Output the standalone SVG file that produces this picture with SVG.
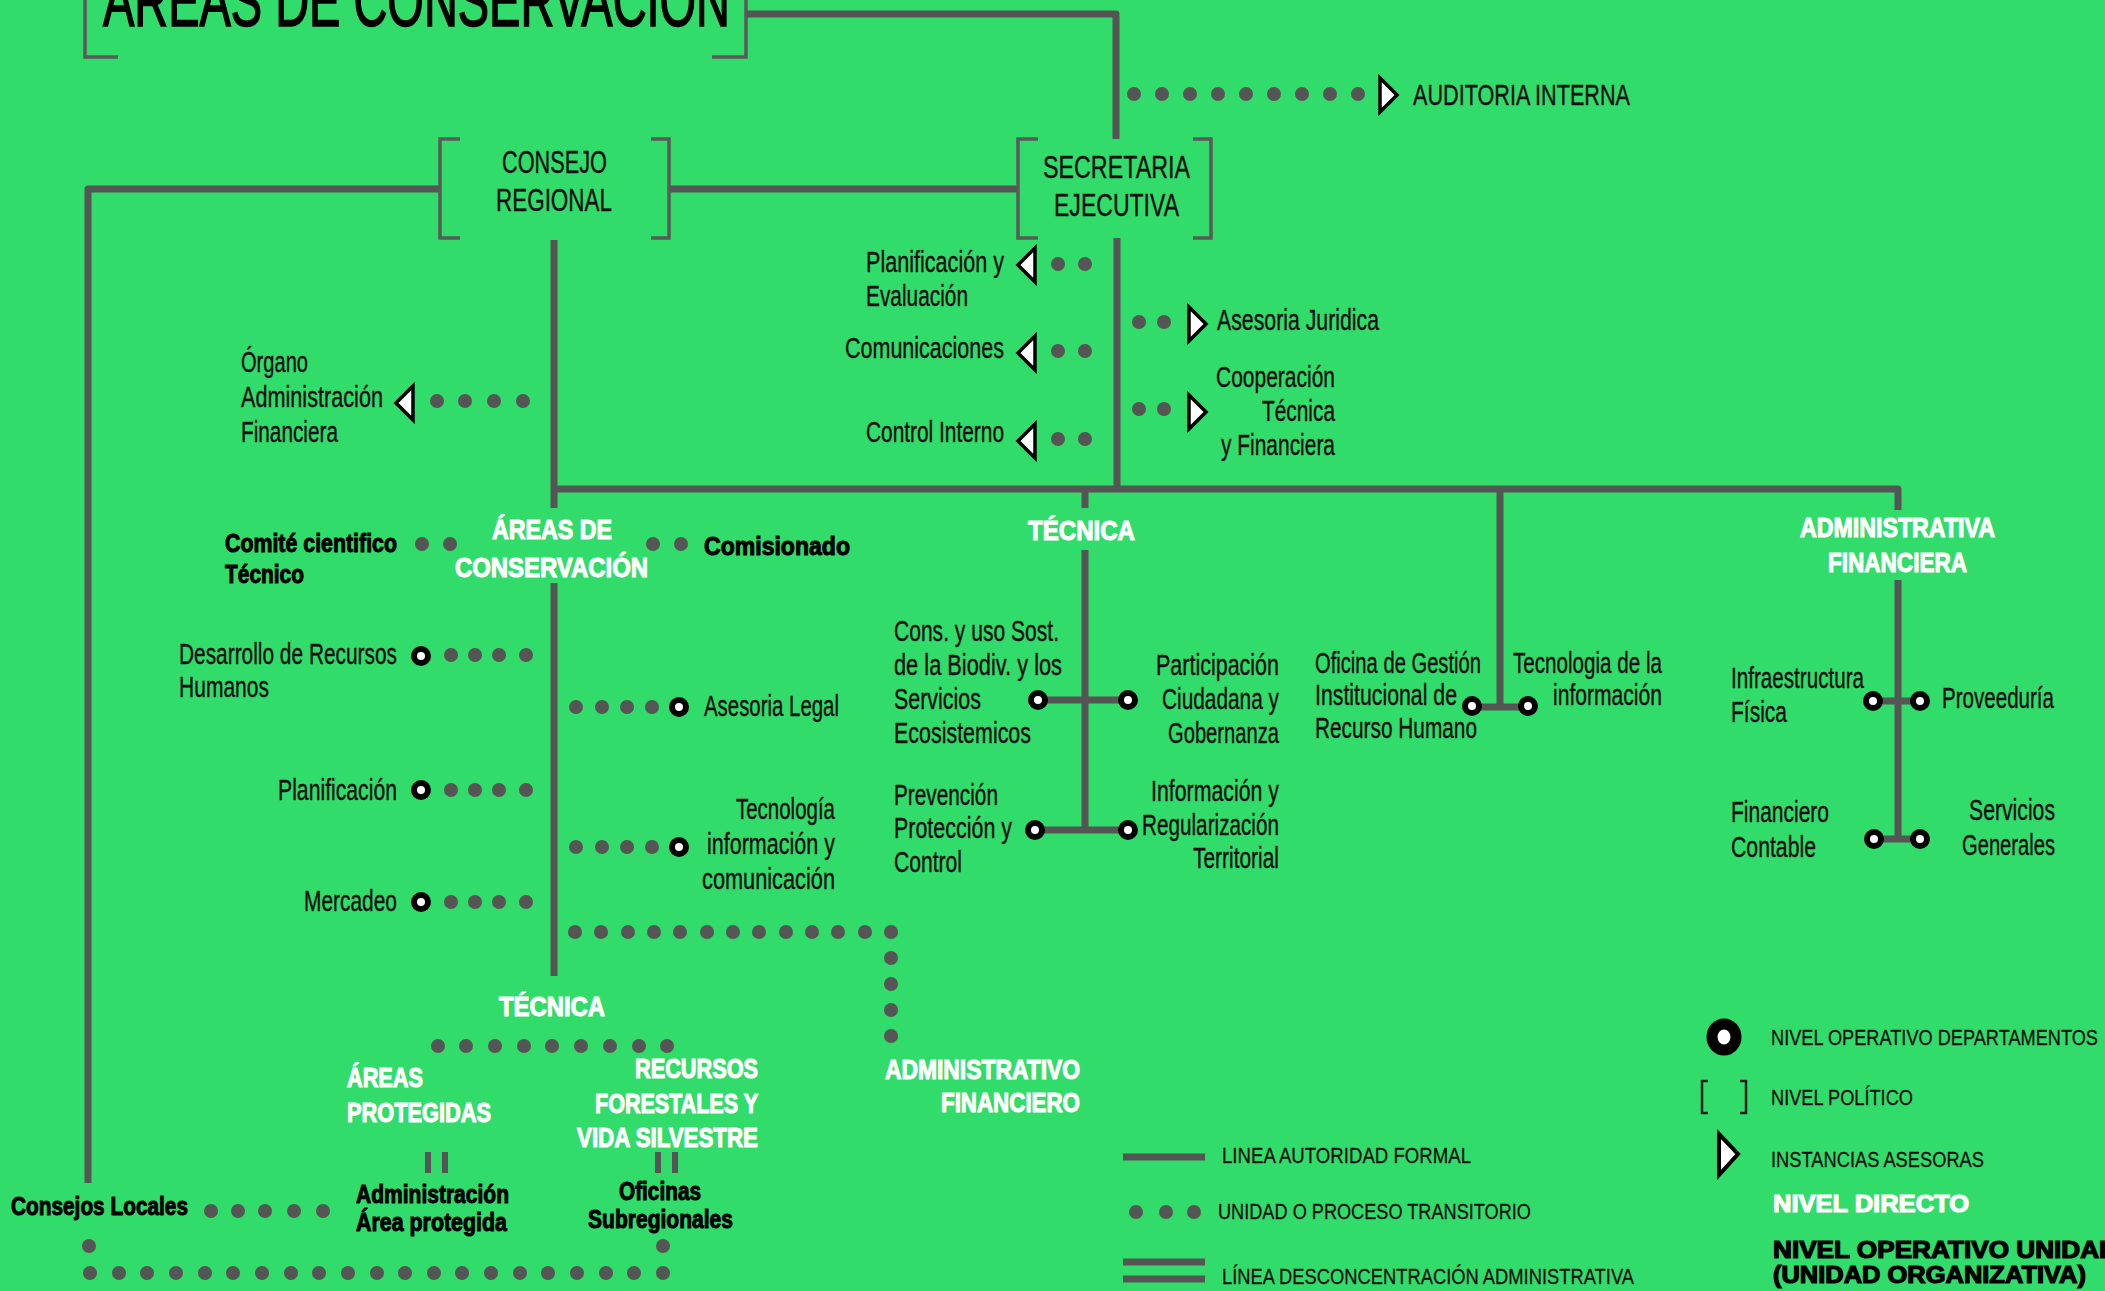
<svg xmlns="http://www.w3.org/2000/svg" xmlns:xlink="http://www.w3.org/1999/xlink" width="2105" height="1291" viewBox="0 0 2105 1291">
<style>
text{font-family:"Liberation Sans",Arial,sans-serif;}
.n{font-size:29px;fill:#111;stroke:#111;stroke-width:0.4;}
.p{font-size:31px;fill:#111;stroke:#111;stroke-width:0.4;}
.w{font-size:27px;font-weight:bold;fill:#fff;stroke:#fff;stroke-width:1.1;}
.k{font-size:26px;font-weight:bold;fill:#000;stroke:#000;stroke-width:1;}
.lg{font-size:22px;fill:#111;stroke:#111;stroke-width:0.3;}
.br{fill:none;stroke:#5a5a5a;stroke-width:3.5;}
</style>
<defs>
<circle id="dt" r="7" fill="#555"/>
<circle id="rg" r="7" fill="#fff" stroke="#000" stroke-width="6"/>
<polygon id="trR" points="-8,-17 9,0 -8,17" fill="#fff" stroke="#000" stroke-width="3.5"/>
<polygon id="trL" points="8,-17 -9,0 8,17" fill="#fff" stroke="#000" stroke-width="3.5"/>
</defs>
<rect x="0" y="0" width="2105" height="1291" fill="#32dc6a"/>

<g id="connectors" fill="none" stroke="#555" stroke-width="7" stroke-linejoin="round">
<path d="M746,14 H1116 V139"/>
<path d="M88,1183 V189 H440"/>
<path d="M669,189 H1018"/>
<path d="M1117,238 V489"/>
<path d="M554,240 V508"/>
<path d="M554,583 V976"/>
<path d="M554,489 H1898 V510"/>
<path d="M1085,489 V508"/>
<path d="M1085,550 V830"/>
<path d="M1038,700 H1128"/>
<path d="M1035,830 H1128"/>
<path d="M1500,489 V707"/>
<path d="M1472,707 H1528"/>
<path d="M1898,580 V839"/>
<path d="M1873,701 H1920"/>
<path d="M1874,839 H1920"/>
<g stroke-width="6">
<path d="M428,1152 V1173 M445,1152 V1173"/>
<path d="M658,1152 V1173 M675,1152 V1173"/>
</g>
<g id="dots" stroke="none">
<use href="#dt" x="1134" y="94"/><use href="#dt" x="1162" y="94"/><use href="#dt" x="1190" y="94"/><use href="#dt" x="1218" y="94"/><use href="#dt" x="1246" y="94"/><use href="#dt" x="1274" y="94"/><use href="#dt" x="1302" y="94"/><use href="#dt" x="1330" y="94"/><use href="#dt" x="1358" y="94"/>
<use href="#dt" x="1058" y="264"/><use href="#dt" x="1085" y="264"/>
<use href="#dt" x="1058" y="351"/><use href="#dt" x="1085" y="351"/>
<use href="#dt" x="1058" y="439"/><use href="#dt" x="1085" y="439"/>
<use href="#dt" x="1139" y="322"/><use href="#dt" x="1164" y="322"/>
<use href="#dt" x="1139" y="409"/><use href="#dt" x="1164" y="409"/>
<use href="#dt" x="437" y="401"/><use href="#dt" x="465" y="401"/><use href="#dt" x="494" y="401"/><use href="#dt" x="523" y="401"/>
<use href="#dt" x="422" y="544"/><use href="#dt" x="450" y="544"/>
<use href="#dt" x="653" y="544"/><use href="#dt" x="681" y="544"/>
<use href="#dt" x="451" y="655"/><use href="#dt" x="475" y="655"/><use href="#dt" x="499" y="655"/><use href="#dt" x="526" y="655"/>
<use href="#dt" x="451" y="790"/><use href="#dt" x="475" y="790"/><use href="#dt" x="499" y="790"/><use href="#dt" x="526" y="790"/>
<use href="#dt" x="451" y="902"/><use href="#dt" x="475" y="902"/><use href="#dt" x="499" y="902"/><use href="#dt" x="526" y="902"/>
<use href="#dt" x="576" y="707"/><use href="#dt" x="602" y="707"/><use href="#dt" x="627" y="707"/><use href="#dt" x="652" y="707"/>
<use href="#dt" x="576" y="847"/><use href="#dt" x="602" y="847"/><use href="#dt" x="627" y="847"/><use href="#dt" x="652" y="847"/>
<use href="#dt" x="575" y="932"/><use href="#dt" x="601" y="932"/><use href="#dt" x="628" y="932"/><use href="#dt" x="654" y="932"/><use href="#dt" x="680" y="932"/><use href="#dt" x="707" y="932"/><use href="#dt" x="733" y="932"/><use href="#dt" x="759" y="932"/><use href="#dt" x="786" y="932"/><use href="#dt" x="812" y="932"/><use href="#dt" x="838" y="932"/><use href="#dt" x="865" y="932"/><use href="#dt" x="891" y="932"/>
<use href="#dt" x="891" y="958"/><use href="#dt" x="891" y="984"/><use href="#dt" x="891" y="1010"/><use href="#dt" x="891" y="1036"/>
<use href="#dt" x="438" y="1046"/><use href="#dt" x="466" y="1046"/><use href="#dt" x="495" y="1046"/><use href="#dt" x="524" y="1046"/><use href="#dt" x="552" y="1046"/><use href="#dt" x="581" y="1046"/><use href="#dt" x="610" y="1046"/><use href="#dt" x="639" y="1046"/><use href="#dt" x="667" y="1046"/>
<use href="#dt" x="211" y="1211"/><use href="#dt" x="238" y="1211"/><use href="#dt" x="265" y="1211"/><use href="#dt" x="294" y="1211"/><use href="#dt" x="323" y="1211"/>
<use href="#dt" x="89" y="1246"/><use href="#dt" x="663" y="1246"/>
<use href="#dt" x="90" y="1273"/><use href="#dt" x="119" y="1273"/><use href="#dt" x="147" y="1273"/><use href="#dt" x="176" y="1273"/><use href="#dt" x="205" y="1273"/><use href="#dt" x="233" y="1273"/><use href="#dt" x="262" y="1273"/><use href="#dt" x="291" y="1273"/><use href="#dt" x="319" y="1273"/><use href="#dt" x="348" y="1273"/><use href="#dt" x="377" y="1273"/><use href="#dt" x="405" y="1273"/><use href="#dt" x="434" y="1273"/><use href="#dt" x="462" y="1273"/><use href="#dt" x="491" y="1273"/><use href="#dt" x="520" y="1273"/><use href="#dt" x="548" y="1273"/><use href="#dt" x="577" y="1273"/><use href="#dt" x="606" y="1273"/><use href="#dt" x="634" y="1273"/><use href="#dt" x="663" y="1273"/>
</g>
</g>

<g id="title">
<path class="br" stroke-width="5" d="M85,-5 V57 H118 M712,57 H746 V-5"/>
<text x="103" y="26" font-size="72" fill="#000" stroke="#000" stroke-width="1.6" textLength="627" lengthAdjust="spacingAndGlyphs">ÁREAS DE CONSERVACIÓN</text>
</g>
<g id="consejo-regional">
<path class="br" d="M460,139 H440 V238 H460 M651,139 H669 V238 H651"/>
<text class="p" x="502" y="173" textLength="105" lengthAdjust="spacingAndGlyphs">CONSEJO</text>
<text class="p" x="496" y="211" textLength="116" lengthAdjust="spacingAndGlyphs">REGIONAL</text>
</g>
<g id="secretaria-ejecutiva">
<path class="br" d="M1038,139 H1018 V238 H1038 M1193,139 H1211 V238 H1193"/>
<text class="p" x="1043" y="178" textLength="147" lengthAdjust="spacingAndGlyphs">SECRETARIA</text>
<text class="p" x="1054" y="216" textLength="125" lengthAdjust="spacingAndGlyphs">EJECUTIVA</text>
</g>
<g id="auditoria-interna">
<use href="#trR" x="1388" y="95"/>
<text class="n" x="1413" y="105" textLength="217" lengthAdjust="spacingAndGlyphs">AUDITORIA INTERNA</text>
</g>
<g id="planificacion-evaluacion">
<use href="#trL" x="1027" y="265"/>
<text class="n" x="866" y="272" textLength="138" lengthAdjust="spacingAndGlyphs">Planificación y</text>
<text class="n" x="866" y="306" textLength="102" lengthAdjust="spacingAndGlyphs">Evaluación</text>
</g>
<g id="comunicaciones">
<use href="#trL" x="1027" y="353"/>
<text class="n" x="845" y="358" textLength="159" lengthAdjust="spacingAndGlyphs">Comunicaciones</text>
</g>
<g id="control-interno">
<use href="#trL" x="1027" y="441"/>
<text class="n" x="866" y="442" textLength="138" lengthAdjust="spacingAndGlyphs">Control Interno</text>
</g>
<g id="asesoria-juridica">
<use href="#trR" x="1197" y="324"/>
<text class="n" x="1217" y="330" textLength="162" lengthAdjust="spacingAndGlyphs">Asesoria Juridica</text>
</g>
<g id="cooperacion">
<use href="#trR" x="1197" y="412"/>
<text class="n" x="1216" y="387" textLength="119" lengthAdjust="spacingAndGlyphs">Cooperación</text>
<text class="n" x="1262" y="421" textLength="73" lengthAdjust="spacingAndGlyphs">Técnica</text>
<text class="n" x="1221" y="455" textLength="114" lengthAdjust="spacingAndGlyphs">y Financiera</text>
</g>
<g id="organo-admin">
<use href="#trL" x="405" y="403"/>
<text class="n" x="241" y="372" textLength="67" lengthAdjust="spacingAndGlyphs">Órgano</text>
<text class="n" x="241" y="407" textLength="142" lengthAdjust="spacingAndGlyphs">Administración</text>
<text class="n" x="241" y="442" textLength="97" lengthAdjust="spacingAndGlyphs">Financiera</text>
</g>
<g id="areas-conservacion">
<text class="w" x="492" y="539" textLength="120" lengthAdjust="spacingAndGlyphs">ÁREAS DE</text>
<text class="w" x="455" y="577" textLength="193" lengthAdjust="spacingAndGlyphs">CONSERVACIÓN</text>
</g>
<g id="comite">
<text class="k" x="225" y="552" textLength="172" lengthAdjust="spacingAndGlyphs">Comité cientifico</text>
<text class="k" x="225" y="583" textLength="79" lengthAdjust="spacingAndGlyphs">Técnico</text>
</g>
<g id="comisionado">
<text class="k" x="704" y="555" textLength="146" lengthAdjust="spacingAndGlyphs">Comisionado</text>
</g>
<g id="tecnica-sup">
<text class="w" x="1028" y="540" textLength="107" lengthAdjust="spacingAndGlyphs">TÉCNICA</text>
</g>
<g id="admin-fin">
<text class="w" x="1800" y="537" textLength="195" lengthAdjust="spacingAndGlyphs">ADMINISTRATIVA</text>
<text class="w" x="1828" y="572" textLength="139" lengthAdjust="spacingAndGlyphs">FINANCIERA</text>
</g>
<g id="desarrollo-rrhh">
<use href="#rg" x="421" y="656"/>
<text class="n" x="179" y="664" textLength="218" lengthAdjust="spacingAndGlyphs">Desarrollo de Recursos</text>
<text class="n" x="179" y="697" textLength="90" lengthAdjust="spacingAndGlyphs">Humanos</text>
</g>
<g id="planificacion">
<use href="#rg" x="421" y="790"/>
<text class="n" x="278" y="800" textLength="119" lengthAdjust="spacingAndGlyphs">Planificación</text>
</g>
<g id="mercadeo">
<use href="#rg" x="421" y="902"/>
<text class="n" x="304" y="911" textLength="93" lengthAdjust="spacingAndGlyphs">Mercadeo</text>
</g>
<g id="asesoria-legal">
<use href="#rg" x="679" y="707"/>
<text class="n" x="704" y="716" textLength="135" lengthAdjust="spacingAndGlyphs">Asesoria Legal</text>
</g>
<g id="tic">
<use href="#rg" x="679" y="847"/>
<text class="n" x="736" y="819" textLength="99" lengthAdjust="spacingAndGlyphs">Tecnología</text>
<text class="n" x="707" y="854" textLength="128" lengthAdjust="spacingAndGlyphs">información y</text>
<text class="n" x="702" y="889" textLength="133" lengthAdjust="spacingAndGlyphs">comunicación</text>
</g>
<g id="biodiversidad">
<use href="#rg" x="1038" y="700"/>
<text class="n" x="894" y="641" textLength="165" lengthAdjust="spacingAndGlyphs">Cons. y uso Sost.</text>
<text class="n" x="894" y="675" textLength="168" lengthAdjust="spacingAndGlyphs">de la Biodiv. y los</text>
<text class="n" x="894" y="709" textLength="87" lengthAdjust="spacingAndGlyphs">Servicios</text>
<text class="n" x="894" y="743" textLength="137" lengthAdjust="spacingAndGlyphs">Ecosistemicos</text>
</g>
<g id="participacion">
<use href="#rg" x="1128" y="700"/>
<text class="n" x="1156" y="675" textLength="123" lengthAdjust="spacingAndGlyphs">Participación</text>
<text class="n" x="1162" y="709" textLength="117" lengthAdjust="spacingAndGlyphs">Ciudadana y</text>
<text class="n" x="1168" y="743" textLength="111" lengthAdjust="spacingAndGlyphs">Gobernanza</text>
</g>
<g id="prevencion">
<use href="#rg" x="1035" y="830"/>
<text class="n" x="894" y="805" textLength="104" lengthAdjust="spacingAndGlyphs">Prevención</text>
<text class="n" x="894" y="838" textLength="118" lengthAdjust="spacingAndGlyphs">Protección y</text>
<text class="n" x="894" y="872" textLength="68" lengthAdjust="spacingAndGlyphs">Control</text>
</g>
<g id="informacion-regularizacion">
<use href="#rg" x="1128" y="830"/>
<text class="n" x="1151" y="801" textLength="128" lengthAdjust="spacingAndGlyphs">Información y</text>
<text class="n" x="1142" y="835" textLength="137" lengthAdjust="spacingAndGlyphs">Regularización</text>
<text class="n" x="1193" y="868" textLength="86" lengthAdjust="spacingAndGlyphs">Territorial</text>
</g>
<g id="oficina-rrhh">
<use href="#rg" x="1472" y="706"/>
<text class="n" x="1315" y="673" textLength="166" lengthAdjust="spacingAndGlyphs">Oficina de Gestión</text>
<text class="n" x="1315" y="705" textLength="142" lengthAdjust="spacingAndGlyphs">Institucional de</text>
<text class="n" x="1315" y="738" textLength="162" lengthAdjust="spacingAndGlyphs">Recurso Humano</text>
</g>
<g id="tecnologia-informacion">
<use href="#rg" x="1528" y="706"/>
<text class="n" x="1513" y="673" textLength="149" lengthAdjust="spacingAndGlyphs">Tecnologia de la</text>
<text class="n" x="1553" y="705" textLength="109" lengthAdjust="spacingAndGlyphs">información</text>
</g>
<g id="infraestructura">
<use href="#rg" x="1873" y="701"/>
<text class="n" x="1731" y="688" textLength="133" lengthAdjust="spacingAndGlyphs">Infraestructura</text>
<text class="n" x="1731" y="722" textLength="56" lengthAdjust="spacingAndGlyphs">Física</text>
</g>
<g id="proveeduria">
<use href="#rg" x="1920" y="701"/>
<text class="n" x="1942" y="708" textLength="112" lengthAdjust="spacingAndGlyphs">Proveeduría</text>
</g>
<g id="financiero-contable">
<use href="#rg" x="1874" y="839"/>
<text class="n" x="1731" y="822" textLength="98" lengthAdjust="spacingAndGlyphs">Financiero</text>
<text class="n" x="1731" y="857" textLength="85" lengthAdjust="spacingAndGlyphs">Contable</text>
</g>
<g id="servicios-generales">
<use href="#rg" x="1920" y="839"/>
<text class="n" x="1969" y="820" textLength="86" lengthAdjust="spacingAndGlyphs">Servicios</text>
<text class="n" x="1962" y="855" textLength="93" lengthAdjust="spacingAndGlyphs">Generales</text>
</g>
<g id="admin-financiero">
<text class="w" x="885" y="1079" textLength="195" lengthAdjust="spacingAndGlyphs">ADMINISTRATIVO</text>
<text class="w" x="941" y="1112" textLength="139" lengthAdjust="spacingAndGlyphs">FINANCIERO</text>
</g>
<g id="tecnica-inf">
<text class="w" x="499" y="1016" textLength="106" lengthAdjust="spacingAndGlyphs">TÉCNICA</text>
</g>
<g id="areas-protegidas">
<text class="w" x="347" y="1087" textLength="76" lengthAdjust="spacingAndGlyphs">ÁREAS</text>
<text class="w" x="347" y="1122" textLength="144" lengthAdjust="spacingAndGlyphs">PROTEGIDAS</text>
</g>
<g id="recursos-forestales">
<text class="w" x="635" y="1078" textLength="123" lengthAdjust="spacingAndGlyphs">RECURSOS</text>
<text class="w" x="595" y="1113" textLength="163" lengthAdjust="spacingAndGlyphs">FORESTALES Y</text>
<text class="w" x="577" y="1147" textLength="181" lengthAdjust="spacingAndGlyphs">VIDA SILVESTRE</text>
</g>
<g id="admin-area-protegida">
<text class="k" x="356" y="1203" textLength="153" lengthAdjust="spacingAndGlyphs">Administración</text>
<text class="k" x="356" y="1231" textLength="151" lengthAdjust="spacingAndGlyphs">Área protegida</text>
</g>
<g id="oficinas-subregionales">
<text class="k" x="619" y="1200" textLength="82" lengthAdjust="spacingAndGlyphs">Oficinas</text>
<text class="k" x="588" y="1228" textLength="145" lengthAdjust="spacingAndGlyphs">Subregionales</text>
</g>
<g id="consejos-locales">
<text class="k" x="11" y="1215" textLength="177" lengthAdjust="spacingAndGlyphs">Consejos Locales</text>
</g>

<g id="legend">
<path d="M1123,1157 H1205" stroke="#555" stroke-width="7"/>
<use href="#dt" x="1136" y="1212"/><use href="#dt" x="1166" y="1212"/><use href="#dt" x="1194" y="1212"/>
<path d="M1123,1262 H1205 M1123,1279 H1205" stroke="#555" stroke-width="7"/>
<text class="lg" x="1222" y="1163" textLength="249" lengthAdjust="spacingAndGlyphs">LINEA AUTORIDAD FORMAL</text>
<text class="lg" x="1218" y="1219" textLength="313" lengthAdjust="spacingAndGlyphs">UNIDAD O PROCESO TRANSITORIO</text>
<text class="lg" x="1222" y="1284" textLength="412" lengthAdjust="spacingAndGlyphs">LÍNEA DESCONCENTRACIÓN ADMINISTRATIVA</text>
<ellipse cx="1724" cy="1037" rx="12" ry="13" fill="#fff" stroke="#000" stroke-width="11"/>
<text class="lg" x="1771" y="1045" textLength="327" lengthAdjust="spacingAndGlyphs">NIVEL OPERATIVO DEPARTAMENTOS</text>
<path d="M1708,1081 H1702 V1113 H1708 M1740,1081 H1746 V1113 H1740" fill="none" stroke="#222" stroke-width="2.5"/>
<text class="lg" x="1771" y="1105" textLength="142" lengthAdjust="spacingAndGlyphs">NIVEL POLÍTICO</text>
<polygon points="1719,1134 1738,1154 1719,1175" fill="#fff" stroke="#000" stroke-width="4"/>
<text class="lg" x="1771" y="1167" textLength="213" lengthAdjust="spacingAndGlyphs">INSTANCIAS ASESORAS</text>
<text x="1773" y="1212" font-size="24" font-weight="bold" fill="#fff" stroke="#fff" stroke-width="1.2" textLength="196" lengthAdjust="spacingAndGlyphs">NIVEL DIRECTO</text>
<text x="1773" y="1258" font-size="23" font-weight="bold" fill="#000" stroke="#000" stroke-width="1.2" textLength="345" lengthAdjust="spacingAndGlyphs">NIVEL OPERATIVO UNIDAD</text>
<text x="1773" y="1283" font-size="23" font-weight="bold" fill="#000" stroke="#000" stroke-width="1.2" textLength="313" lengthAdjust="spacingAndGlyphs">(UNIDAD ORGANIZATIVA)</text>
</g>
</svg>
